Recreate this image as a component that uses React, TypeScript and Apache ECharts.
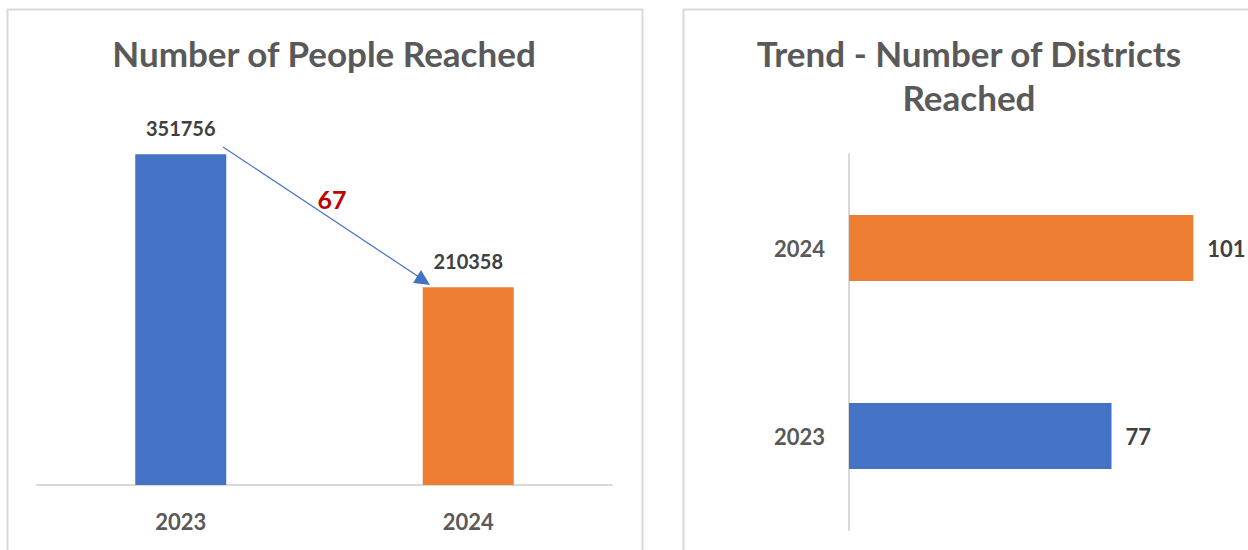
import React, { useEffect, useRef } from "react";
import * as echarts from "echarts";

const years = ["2023", "2024"];
const peopleReached = [351756, 210358];
const districtsReached = [77, 101];
const changeLabel = "67";
const leftTitle = "Number of People Reached";
const rightTitle = "Trend - Number of Districts\nReached";

const BLUE = "#4472c4";
const ORANGE = "#ed7d31";
const FONT = "Lato, 'Open Sans', sans-serif";

export default function App() {
  const ref = useRef<HTMLDivElement>(null);
  useEffect(() => {
    const chart = echarts.init(ref.current!, null, { renderer: "svg" });
    chart.setOption({
      animation: false,
      backgroundColor: "#ffffff",
      textStyle: { fontFamily: FONT },
      grid: [
        { left: 37, top: 109, width: 575, height: 376 },
        { left: 849, top: 154, width: 375, height: 376 },
      ],
      xAxis: [
        {
          gridIndex: 0,
          type: "category",
          data: years,
          axisLine: { lineStyle: { color: "#d9d9d9", width: 2 } },
          axisTick: { show: false },
          axisLabel: { color: "#595959", fontSize: 22, fontWeight: "bold", margin: 25, fontFamily: FONT },
        },
        {
          gridIndex: 1,
          type: "value",
          min: 0,
          max: 110,
          show: false,
          splitLine: { show: false },
        },
      ],
      yAxis: [
        {
          gridIndex: 0,
          type: "value",
          min: 0,
          max: 400000,
          show: false,
          splitLine: { show: false },
        },
        {
          gridIndex: 1,
          type: "category",
          data: years,
          axisLine: { lineStyle: { color: "#d9d9d9", width: 2 } },
          axisTick: { show: false },
          axisLabel: { color: "#595959", fontSize: 22, fontWeight: "bold", margin: 24, fontFamily: FONT },
        },
      ],
      series: [
        {
          type: "bar",
          xAxisIndex: 0,
          yAxisIndex: 0,
          barWidth: 91,
          data: peopleReached.map((v, i) => ({ value: v, itemStyle: { color: i === 0 ? BLUE : ORANGE } })),
          label: {
            show: true,
            position: "top",
            distance: 16,
            color: "#404040",
            fontSize: 20,
            fontWeight: "bold",
            fontFamily: FONT,
          },
        },
        {
          type: "bar",
          xAxisIndex: 1,
          yAxisIndex: 1,
          barWidth: 66,
          data: districtsReached.map((v, i) => ({ value: v, itemStyle: { color: i === 0 ? BLUE : ORANGE } })),
          label: {
            show: true,
            position: "right",
            distance: 14,
            color: "#404040",
            fontSize: 22,
            fontWeight: "bold",
            fontFamily: FONT,
          },
        },
      ],
      graphic: [
        {
          type: "rect",
          shape: { x: 7.5, y: 9.5, width: 635, height: 560 },
          style: { fill: "none", stroke: "#d9d9d9", lineWidth: 2 },
          silent: true,
        },
        {
          type: "rect",
          shape: { x: 683.5, y: 9.5, width: 600, height: 560 },
          style: { fill: "none", stroke: "#d9d9d9", lineWidth: 2 },
          silent: true,
        },
        {
          type: "text",
          x: 324,
          y: 53,
          style: {
            text: leftTitle,
            fill: "#595959",
            font: `bold 35px ${FONT}`,
            textAlign: "center",
            textVerticalAlign: "middle",
          },
        },
        {
          type: "text",
          x: 969,
          y: 75,
          style: {
            text: rightTitle,
            fill: "#595959",
            font: `bold 35px ${FONT}`,
            textAlign: "center",
            textVerticalAlign: "middle",
            lineHeight: 44,
          },
        },
        {
          type: "line",
          shape: { x1: 223, y1: 147, x2: 422, y2: 279 },
          style: { stroke: BLUE, lineWidth: 1.2 },
        },
        {
          type: "polygon",
          shape: { points: [[430, 285], [413, 283], [421, 270]] },
          style: { fill: BLUE },
        },
        {
          type: "text",
          x: 332,
          y: 199,
          style: {
            text: changeLabel,
            fill: "#c00000",
            font: `bold 25px ${FONT}`,
            textAlign: "center",
            textVerticalAlign: "middle",
          },
        },
      ],
    });
    return () => chart.dispose();
  }, []);
  return (
    <div
      ref={ref}
      style={{ position: "absolute", left: 0, top: 0, width: 1248, height: 550 }}
    />
  );
}
